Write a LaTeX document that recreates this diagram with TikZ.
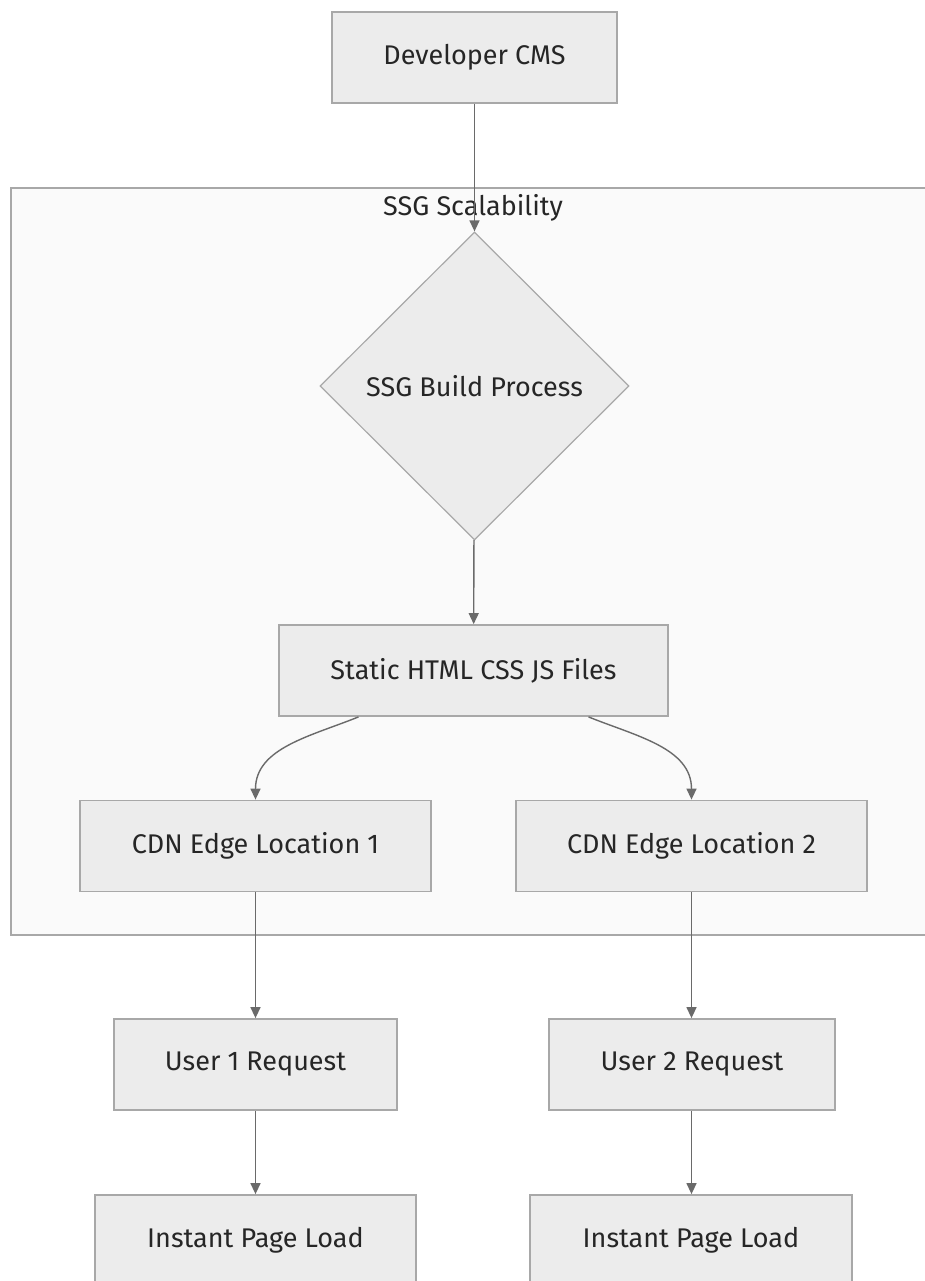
\documentclass[tikz,border=0pt]{standalone}
\usepackage{fontspec}
\setmainfont{Fira Sans}
\usepackage{tikz}
\usetikzlibrary{
	arrows.meta,
	positioning,
	shapes.geometric
}
\usepackage{xcolor}
\definecolor{boxfill}{HTML}{ECECEC}
\definecolor{boxline}{HTML}{A8A8A8}
\definecolor{groupfill}{HTML}{FAFAFA}
\definecolor{edgeline}{HTML}{6A6A6A}

\begin{document}
\begin{tikzpicture}[
			x=1pt,y=1pt,
			every node/.style={font=\fontsize{27}{32}\selectfont,text=black!85},
			stepbox/.style={rectangle,draw=boxline,fill=boxfill,line width=1.8pt,inner sep=0pt,minimum height=91pt},
			decide/.style={diamond,draw=boxline,fill=boxfill,line width=1.2pt,inner sep=0pt,minimum width=309pt,minimum height=308pt},
			link/.style={draw=edgeline,line width=1.4pt,-{Triangle[length=11pt,width=10pt]}},
			]
			
			\clip (0,0) rectangle (925,-1281);
			\fill[white] (0,0) rectangle (925,-1281);
			
			% Group frame
			\draw[draw=boxline,fill=groupfill,line width=1.8pt] (11,-188) rectangle (960,-935);
			\node (grouptitle) at (473,-208){SSG Scalability};
			
			% Source
			\node[stepbox,minimum width=285pt] (cms) at (474.5,-57.5){Developer CMS};
			
			% Build
			\node[decide] (build) at (474.5,-386){SSG Build Process};
			\node[stepbox,minimum width=389pt] (static) at (473.5,-670.5){Static HTML CSS JS Files};
			
			% Edge locations
			\node[stepbox,minimum width=351pt] (cdnA) at (255.5,-846){CDN Edge Location 1};
			\node[stepbox,minimum width=351pt] (cdnB) at (691.5,-846){CDN Edge Location 2};
			
			% Users
			\node[stepbox,minimum width=283pt] (userA) at (255.5,-1064.5){User 1 Request};
			\node[stepbox,minimum width=286pt] (userB) at (692,-1064.5){User 2 Request};
			\node[stepbox,minimum width=321pt] (loadA) at (255.5,-1240.5){Instant Page Load};
			\node[stepbox,minimum width=322pt] (loadB) at (691,-1240.5){Instant Page Load};
			
			% Connections
			\draw[link](cms)--(build);
			\draw[link](build)--(static);
			\draw[link]([xshift=-115pt]static.south) to[out=202,in=90] (cdnA.north);
			\draw[link]([xshift=115pt]static.south) to[out=-22,in=90] (cdnB.north);
			\draw[link](cdnA)--(userA);
			\draw[link](cdnB)--(userB.north -| cdnB.south);
			\draw[link](userA)--(loadA);
			\draw[link](userB.south -| cdnB.south)--(loadB.north -| cdnB.south);
			
		\end{tikzpicture}
\end{document}
